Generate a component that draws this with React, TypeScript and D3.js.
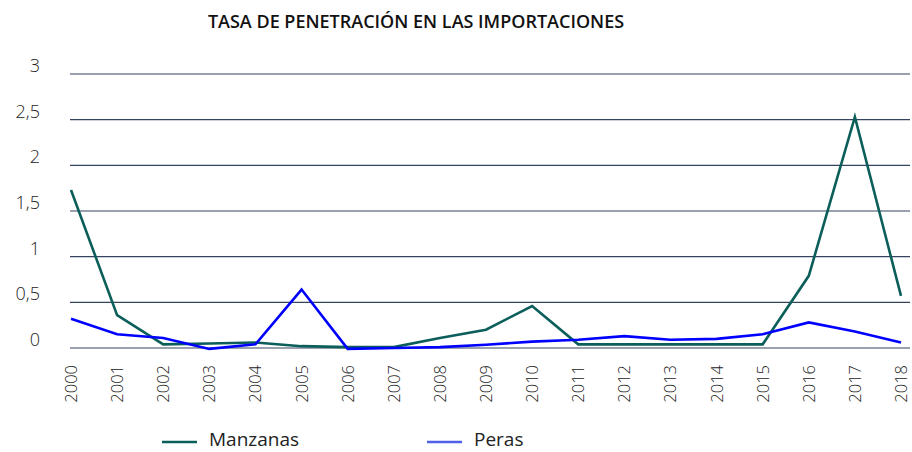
import React from "react";
import * as d3 from "d3";

const years = ["2000","2001","2002","2003","2004","2005","2006","2007","2008","2009","2010","2011","2012","2013","2014","2015","2016","2017","2018"];
const manzanas = [1.73,0.36,0.04,0.05,0.06,0.02,0.01,0.01,0.11,0.2,0.46,0.04,0.04,0.04,0.04,0.04,0.79,2.53,0.57];
const peras = [0.32,0.15,0.11,-0.01,0.04,0.64,-0.01,0,0.01,0.035,0.07,0.09,0.13,0.09,0.1,0.15,0.28,0.18,0.06];
const yTicks = [0,0.5,1,1.5,2,2.5,3];

const W = 912, H = 452;
const font = "'Open Sans', sans-serif";

export default function App() {
  const x = d3.scalePoint<string>().domain(years).range([71, 901]);
  const y = d3.scaleLinear().domain([0, 3]).range([348, 74]);
  const line = d3.line<number>().x((_, i) => x(years[i])!).y(d => y(d));
  const fmt = (v: number) => String(v).replace(".", ",");

  return (
    <svg width={W} height={H} style={{ position: "absolute", left: 0, top: 0, background: "#fff" }}>
      <text x={416} y={28} textAnchor="middle" fontFamily={font} fontWeight={600} fontSize={18} fill="#111">
        TASA DE PENETRACIÓN EN LAS IMPORTACIONES
      </text>
      {yTicks.map(t => (
        <g key={t}>
          <line x1={70} x2={910} y1={y(t)} y2={y(t)} stroke="#34445f" strokeWidth={1.2} />
          <text x={40} y={y(t) - 2} textAnchor="end" fontFamily={font} fontWeight={300} fontSize={18} fill="#222">
            {fmt(t)}
          </text>
        </g>
      ))}
      {years.map(yr => (
        <text key={yr} transform={`translate(${x(yr)! + 6},365) rotate(-90)`} textAnchor="end"
          fontFamily={font} fontWeight={300} fontSize={16.5} fill="#222">{yr}</text>
      ))}
      <path d={line(manzanas)!} fill="none" stroke="#0b5e5a" strokeWidth={2.6} />
      <path d={line(peras)!} fill="none" stroke="#0000ff" strokeWidth={2.6} />
      <line x1={162} x2={197} y1={442} y2={442} stroke="#0b5e5a" strokeWidth={2.5} />
      <text x={209} y={446} fontFamily={font} fontSize={19} fill="#222">Manzanas</text>
      <line x1={427} x2={462} y1={442} y2={442} stroke="#5060e8" strokeWidth={2.5} />
      <text x={474} y={446} fontFamily={font} fontSize={19} fill="#222">Peras</text>
    </svg>
  );
}
